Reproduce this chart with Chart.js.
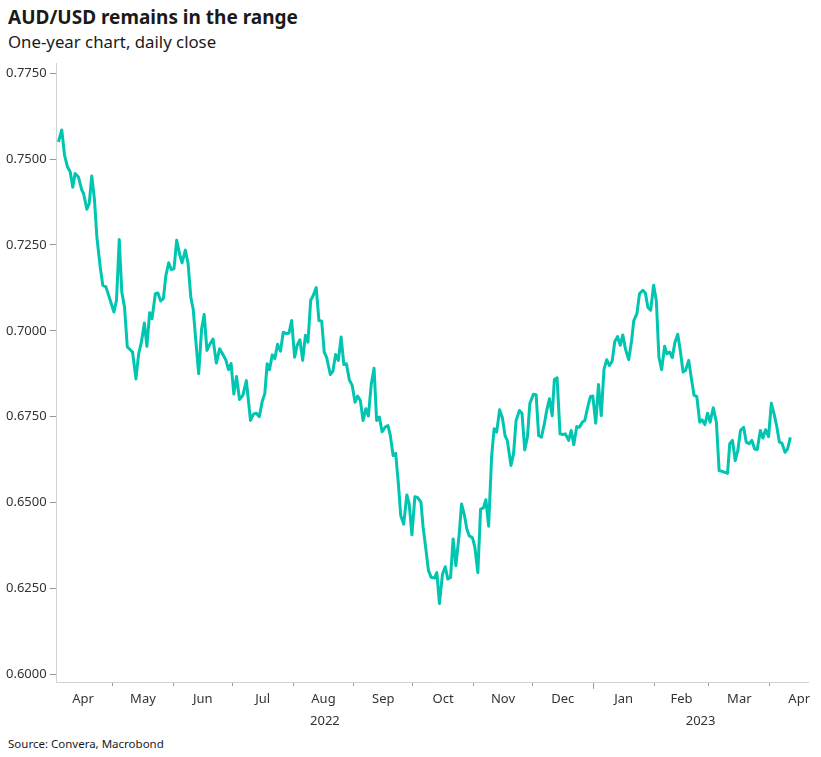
<!DOCTYPE html>
<html>
<head>
<meta charset="utf-8">
<script src="https://cdn.jsdelivr.net/npm/chart.js@4"></script>
<style>
  body { margin: 0; width: 821px; height: 757px; background: #fff; position: relative; overflow: hidden;
         font-family: "Noto Sans", sans-serif; color: #1a1a1a; }
  #title { position: absolute; left: 8px; top: 4px; font-size: 19px; font-weight: 700; }
  #subtitle { position: absolute; left: 8px; top: 30px; font-size: 16.8px; }
  #wrap { position: absolute; left: 0; top: 50px; width: 821px; height: 684px; }
  #source { position: absolute; left: 8px; top: 736px; font-size: 11.5px; }
</style>
</head>
<body>
<div id="title">AUD/USD remains in the range</div>
<div id="subtitle">One-year chart, daily close</div>
<div id="wrap"><canvas id="fxChart"></canvas></div>
<div id="source">Source: Convera, Macrobond</div>
<script>
// days counted from 1 Apr 2022
var dayNumber = [
  2.4, 4.1, 5.5, 7.0, 8.4, 9.7, 10.9, 12.6, 14.3, 15.2, 16.9, 18.1, 19.4, 20.8, 22.0, 23.7, 25.0, 26.6, 28.8, 30.7,
  32.0, 33.4, 34.7, 36.1, 37.5, 39.0, 40.2, 41.9, 43.3, 44.7, 46.2, 47.5, 48.9, 50.1, 51.8, 53.1, 54.5, 55.9, 57.2, 58.6,
  60.0, 61.3, 62.7, 64.1, 65.4, 67.1, 68.5, 69.9, 71.1, 72.7, 73.9, 75.4, 76.7, 78.1, 79.5, 81.2, 82.9, 84.6, 86.5, 87.7,
  89.1, 90.4, 91.8, 93.2, 94.7, 96.4, 98.2, 100.3, 101.9, 103.3, 104.8, 106.3, 107.6, 108.8, 110.0, 111.4, 112.7, 114.1, 115.6, 117.0,
  118.5, 119.9, 121.3, 122.8, 124.1, 125.5, 126.9, 128.3, 129.6, 131.0, 132.3, 133.8, 135.2, 136.6, 137.9, 139.1, 141.0, 142.3, 143.7, 145.1,
  146.5, 147.9, 149.2, 150.7, 152.1, 153.6, 154.9, 156.3, 157.7, 159.1, 160.4, 161.9, 163.3, 164.6, 166.0, 167.4, 169.0, 170.4, 171.6, 173.0,
  174.3, 175.7, 176.9, 178.4, 180.0, 181.2, 182.6, 184.1, 185.4, 187.2, 188.3, 189.7, 191.0, 192.4, 194.1, 195.3, 196.6, 198.2, 199.6, 200.9,
  202.3, 203.6, 205.0, 206.7, 207.9, 209.3, 210.6, 211.8, 213.5, 214.7, 216.2, 217.6, 219.0, 220.3, 221.7, 223.2, 224.5, 225.8, 227.3, 228.7,
  230.1, 231.2, 233.1, 234.4, 235.7, 237.4, 238.7, 240.1, 241.5, 242.7, 244.5, 245.9, 247.2, 248.6, 250.1, 251.3, 252.7, 254.1, 255.2, 256.6,
  258.1, 259.5, 260.8, 262.5, 263.8, 265.1, 266.6, 268.0, 269.4, 270.7, 272.3, 273.6, 274.8, 276.3, 277.7, 279.1, 280.5, 281.9, 283.3, 284.7,
  286.0, 287.4, 288.8, 290.1, 291.5, 293.1, 294.6, 295.7, 297.3, 298.6, 300.3, 301.6, 302.9, 304.3, 305.8, 307.2, 308.5, 309.9, 311.4, 312.6,
  314.0, 315.3, 316.7, 318.1, 319.4, 320.8, 322.1, 323.7, 325.1, 326.4, 327.8, 329.3, 330.5, 331.9, 333.3, 334.6, 336.2, 337.8, 339.2, 340.6,
  342.1, 343.5, 344.6, 346.0, 347.4, 348.7, 350.1, 351.7, 353.0, 354.5, 355.9, 357.3, 358.6, 360.2, 361.5, 362.9, 364.4, 365.8, 367.2, 368.5,
  369.9, 371.2, 372.8, 374.1, 375.5
];

var audUsd = [
  0.7550, 0.7585, 0.7512, 0.7478, 0.7463, 0.7418, 0.7458, 0.7448, 0.7410, 0.7400, 0.7354, 0.7371, 0.7451, 0.7380, 0.7273, 0.7186, 0.7133, 0.7128, 0.7089, 0.7055,
  0.7089, 0.7266, 0.7113, 0.7069, 0.6953, 0.6945, 0.6938, 0.6860, 0.6933, 0.6967, 0.7023, 0.6955, 0.7053, 0.7035, 0.7108, 0.7110, 0.7087, 0.7094, 0.7162, 0.7198,
  0.7178, 0.7181, 0.7264, 0.7225, 0.7198, 0.7235, 0.7196, 0.7097, 0.7063, 0.6953, 0.6875, 0.7006, 0.7048, 0.6943, 0.6960, 0.6976, 0.6906, 0.6948, 0.6928, 0.6916,
  0.6887, 0.6905, 0.6816, 0.6867, 0.6800, 0.6812, 0.6855, 0.6739, 0.6758, 0.6760, 0.6750, 0.6795, 0.6817, 0.6904, 0.6887, 0.6930, 0.6919, 0.6961, 0.6941, 0.6996,
  0.6992, 0.6993, 0.7030, 0.6923, 0.6958, 0.6974, 0.6914, 0.6987, 0.6967, 0.7089, 0.7103, 0.7126, 0.7030, 0.7028, 0.6938, 0.6923, 0.6873, 0.6882, 0.6931, 0.6914,
  0.6982, 0.6902, 0.6904, 0.6857, 0.6842, 0.6792, 0.6810, 0.6797, 0.6739, 0.6773, 0.6752, 0.6846, 0.6891, 0.6739, 0.6749, 0.6706, 0.6720, 0.6724, 0.6695, 0.6637,
  0.6643, 0.6554, 0.6462, 0.6437, 0.6522, 0.6496, 0.6406, 0.6517, 0.6515, 0.6501, 0.6428, 0.6365, 0.6303, 0.6282, 0.6280, 0.6296, 0.6206, 0.6292, 0.6313, 0.6277,
  0.6282, 0.6394, 0.6316, 0.6408, 0.6496, 0.6465, 0.6423, 0.6403, 0.6397, 0.6369, 0.6296, 0.6481, 0.6484, 0.6508, 0.6431, 0.6632, 0.6715, 0.6705, 0.6770, 0.6747,
  0.6694, 0.6681, 0.6608, 0.6642, 0.6739, 0.6768, 0.6760, 0.6653, 0.6692, 0.6788, 0.6815, 0.6814, 0.6695, 0.6690, 0.6729, 0.6768, 0.6802, 0.6753, 0.6858, 0.6863,
  0.6700, 0.6698, 0.6700, 0.6681, 0.6710, 0.6668, 0.6721, 0.6719, 0.6734, 0.6739, 0.6780, 0.6809, 0.6810, 0.6731, 0.6844, 0.6753, 0.6888, 0.6916, 0.6899, 0.6912,
  0.6969, 0.6983, 0.6958, 0.6988, 0.6946, 0.6916, 0.6972, 0.7030, 0.7050, 0.7108, 0.7118, 0.7110, 0.7068, 0.7060, 0.7133, 0.7087, 0.6923, 0.6887, 0.6955, 0.6933,
  0.6938, 0.6922, 0.6967, 0.6990, 0.6943, 0.6880, 0.6885, 0.6914, 0.6860, 0.6812, 0.6809, 0.6734, 0.6741, 0.6727, 0.6760, 0.6734, 0.6776, 0.6734, 0.6593, 0.6591,
  0.6588, 0.6585, 0.6671, 0.6681, 0.6622, 0.6651, 0.6710, 0.6719, 0.6676, 0.6671, 0.6681, 0.6656, 0.6654, 0.6710, 0.6688, 0.6712, 0.6692, 0.6789, 0.6758, 0.6724,
  0.6676, 0.6673, 0.6646, 0.6656, 0.6690
];

var monthLabels = ["Apr", "May", "Jun", "Jul", "Aug", "Sep", "Oct", "Nov", "Dec", "Jan", "Feb", "Mar", "Apr"];
var monthStarts = ["2022-04-01", "2022-05-01", "2022-06-01", "2022-07-01", "2022-08-01", "2022-09-01", "2022-10-01",
                   "2022-11-01", "2022-12-01", "2023-01-01", "2023-02-01", "2023-03-01", "2023-04-01", "2023-05-01"];
var yearLabels = ["2022", "2023"];
var yearStarts = ["2022-01-01", "2023-01-01", "2024-01-01"];
var yTicks = [0.6000, 0.6250, 0.6500, 0.6750, 0.7000, 0.7250, 0.7500, 0.7750];

var X_MIN = 1.5, X_MAX = 384.5;

function toDay(s) {
  return (Date.parse(s) - Date.parse("2022-04-01")) / 86400000;
}

var boundaries = monthStarts.slice(1, -1).map(toDay);
var janDay = toDay("2023-01-01");
var monthMids = monthLabels.map(function (m, i) {
  return (toDay(monthStarts[i]) + toDay(monthStarts[i + 1])) / 2;
});
var yearMids = yearLabels.map(function (y, i) {
  var a = Math.max(toDay(yearStarts[i]), X_MIN);
  var b = Math.min(toDay(yearStarts[i + 1]), X_MAX);
  return (a + b) / 2;
});

Chart.defaults.font.family = "'Noto Sans', sans-serif";
Chart.defaults.font.size = 13;
Chart.defaults.color = "#333";

var axisGrey = "#d4d4d4";

new Chart(document.getElementById("fxChart"), {
  type: "line",
  data: {
    datasets: [{
      data: dayNumber.map(function (d, i) { return { x: d, y: audUsd[i] }; }),
      borderColor: "#00c5b0",
      borderWidth: 3,
      pointRadius: 0,
      tension: 0,
      borderJoinStyle: "round",
      xAxisID: "x",
      yAxisID: "y",
    }],
  },
  options: {
    responsive: true,
    maintainAspectRatio: false,
    animation: false,
    layout: { padding: { top: 13, right: 13, bottom: 2, left: 3 } },
    plugins: { legend: { display: false }, tooltip: { enabled: false } },
    scales: {
      x: {
        type: "linear", position: "bottom", weight: 0,
        min: X_MIN, max: X_MAX,
        afterBuildTicks: function (s) { s.ticks = boundaries.map(function (v) { return { value: v }; }); },
        ticks: { display: false },
        grid: {
          drawOnChartArea: false, tickLength: 6, tickWidth: 1, tickColor: "#999",
          tickBorderDash: function (c) { return c.tick && c.tick.value === janDay ? [] : [3, 10]; },
        },
        border: { color: axisGrey },
      },
      xMonth: {
        type: "linear", position: "bottom", weight: 1,
        min: X_MIN, max: X_MAX,
        afterBuildTicks: function (s) { s.ticks = monthMids.map(function (v) { return { value: v }; }); },
        ticks: {
          autoSkip: false, maxRotation: 0, padding: 3,
          callback: function (v, i) { return monthLabels[i]; },
        },
        grid: { display: false, drawTicks: false },
        border: { display: false },
      },
      xYear: {
        type: "linear", position: "bottom", weight: 2,
        min: X_MIN, max: X_MAX,
        afterBuildTicks: function (s) { s.ticks = yearMids.map(function (v) { return { value: v }; }); },
        ticks: {
          autoSkip: false, maxRotation: 0, padding: 3,
          callback: function (v, i) { return yearLabels[i]; },
        },
        grid: { display: false, drawTicks: false },
        border: { display: false },
      },
      y: {
        type: "linear", position: "left",
        min: 0.5975, max: 0.778,
        afterBuildTicks: function (s) { s.ticks = yTicks.map(function (v) { return { value: v }; }); },
        ticks: { padding: 3, callback: function (v) { return v.toFixed(4); } },
        grid: { drawOnChartArea: false, tickLength: 7, tickColor: "#999" },
        border: { color: axisGrey },
      },
    },
  },
});
</script>
</body>
</html>
